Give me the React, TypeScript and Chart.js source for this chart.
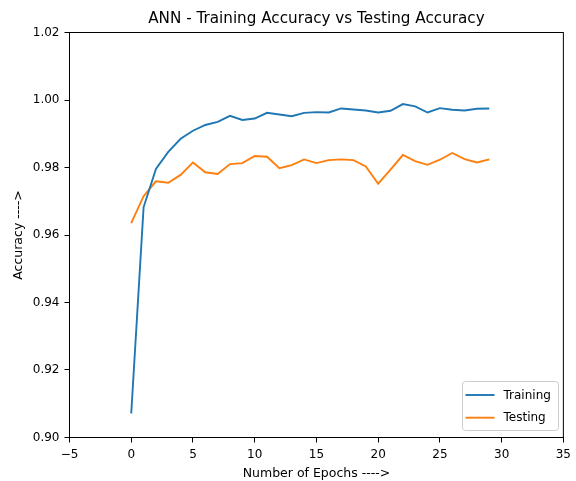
import React, { useEffect, useRef } from 'react';
import { Chart, registerables } from 'chart.js';

Chart.register(...registerables);

const epochs = [0, 1, 2, 3, 4, 5, 6, 7, 8, 9, 10, 11, 12, 13, 14, 15, 16, 17, 18, 19, 20, 21, 22, 23, 24, 25, 26, 27, 28, 29];
const trainingAcc = [0.9071, 0.9682, 0.9796, 0.9846, 0.9885, 0.9909, 0.9926, 0.9935, 0.9953, 0.9941, 0.9945, 0.9962, 0.9957, 0.9952, 0.9962, 0.9964, 0.9963, 0.9975, 0.9972, 0.9969, 0.9963, 0.9968, 0.9988, 0.9981, 0.9963, 0.9976, 0.9971, 0.9969, 0.9974, 0.9975];
const testingAcc = [0.9635, 0.9715, 0.9759, 0.9755, 0.9778, 0.9815, 0.9786, 0.9781, 0.9810, 0.9813, 0.9834, 0.9832, 0.9798, 0.9807, 0.9824, 0.9813, 0.9822, 0.9824, 0.9822, 0.9803, 0.9752, 0.9794, 0.9837, 0.9819, 0.9808, 0.9823, 0.9843, 0.9825, 0.9815, 0.9824];
const seriesLabels = ['Training', 'Testing'];
const seriesColors = ['#1f77b4', '#ff7f0e'];
const titleText = 'ANN - Training Accuracy vs Testing Accuracy';
const xAxisTitle = 'Number of Epochs ---->';
const yAxisTitle = 'Accuracy ---->';
const xMin = -5, xMax = 35, xStep = 5;
const yMin = 0.9, yMax = 1.02, yStep = 0.02;

const FONT = 'DejaVu Sans';

const framePlugin = {
  id: 'frame',
  afterDatasetsDraw(chart: any) {
    const { ctx, chartArea } = chart;
    ctx.save();
    ctx.strokeStyle = '#000';
    ctx.lineWidth = 1;
    ctx.strokeRect(chartArea.left, chartArea.top, chartArea.right - chartArea.left, chartArea.bottom - chartArea.top);
    ctx.restore();
  },
};

const legendPlugin = {
  id: 'innerLegend',
  afterDraw(chart: any) {
    const { ctx, chartArea } = chart;
    const w = 96;
    const h = 49;
    const x = Math.round(chartArea.right - 5 - w) + 0.5;
    const y = Math.round(chartArea.bottom - 8 - h) + 0.5;
    ctx.save();
    ctx.beginPath();
    if (ctx.roundRect) ctx.roundRect(x, y, w, h, 3);
    else ctx.rect(x, y, w, h);
    ctx.fillStyle = 'rgba(255,255,255,0.8)';
    ctx.fill();
    ctx.strokeStyle = '#cccccc';
    ctx.lineWidth = 1;
    ctx.stroke();
    chart.data.datasets.forEach((ds: any, i: number) => {
      const ly = y + 13.5 + i * 22.7;
      ctx.beginPath();
      ctx.strokeStyle = ds.borderColor;
      ctx.lineWidth = ds.borderWidth;
      ctx.moveTo(x + 3, ly);
      ctx.lineTo(x + 32, ly);
      ctx.stroke();
      ctx.fillStyle = '#000';
      ctx.font = `12px "${FONT}"`;
      ctx.textBaseline = 'middle';
      ctx.textAlign = 'left';
      ctx.fillText(ds.label, x + 41, ly + 0.5);
    });
    ctx.restore();
  },
};

export default function App() {
  const canvasRef = useRef<HTMLCanvasElement | null>(null);

  useEffect(() => {
    const canvas = canvasRef.current;
    if (!canvas) return;
    const seriesValues = [trainingAcc, testingAcc];
    const chart = new Chart(canvas, {
      type: 'line',
      data: {
        datasets: seriesValues.map((vals, i) => ({
          label: seriesLabels[i],
          data: epochs.map((e, j) => ({ x: e, y: vals[j] })),
          borderColor: seriesColors[i],
          backgroundColor: seriesColors[i],
          borderWidth: 1.9,
          pointRadius: 0,
          pointHoverRadius: 0,
          tension: 0,
          fill: false,
        })),
      },
      options: {
        responsive: false,
        devicePixelRatio: 1,
        animation: false,
        events: [],
        layout: { padding: { left: 0, right: 12.5, top: 0, bottom: 0 } },
        plugins: {
          legend: { display: false },
          tooltip: { enabled: false },
          title: {
            display: true,
            fullSize: false,
            text: titleText,
            color: '#000',
            font: { family: FONT, size: 15.2, weight: 'normal' },
            padding: { top: 10, bottom: 4.26 },
          },
        },
        scales: {
          x: {
            type: 'linear',
            min: xMin,
            max: xMax,
            afterFit: (scale: any) => {
              scale.height = 43.5;
            },
            ticks: {
              stepSize: xStep,
              color: '#000',
              padding: 5,
              font: { family: FONT, size: 12 },
              callback: (v: any) => (v < 0 ? '\u2212' + Math.abs(v) : String(v)),
            },
            grid: { drawOnChartArea: false, drawTicks: true, tickLength: 5, color: '#000', lineWidth: 1 },
            border: { display: true, color: '#000', width: 1 },
            title: {
              display: true,
              text: xAxisTitle,
              color: '#000',
              font: { family: FONT, size: 12.5 },
              padding: { top: 0, bottom: 0 },
            },
          },
          y: {
            type: 'linear',
            min: yMin,
            max: yMax,
            afterFit: (scale: any) => {
              scale.width = 69.5;
            },
            ticks: {
              stepSize: yStep,
              color: '#000',
              padding: 5,
              font: { family: FONT, size: 12 },
              callback: (v: any) => Number(v).toFixed(2),
            },
            grid: { drawOnChartArea: false, drawTicks: true, tickLength: 5, color: '#000', lineWidth: 1 },
            border: { display: true, color: '#000', width: 1 },
            title: {
              display: true,
              text: yAxisTitle,
              color: '#000',
              font: { family: FONT, size: 12.5 },
              padding: { top: 11, bottom: 0 },
            },
          },
        },
      },
      plugins: [framePlugin, legendPlugin],
    } as any);
    return () => chart.destroy();
  }, []);

  return (
    <div style={{ position: 'absolute', left: 0, top: 0, width: 576, height: 481, background: '#fff' }}>
      <canvas ref={canvasRef} width={576} height={481} style={{ display: 'block', width: 576, height: 481 }} />
    </div>
  );
}
